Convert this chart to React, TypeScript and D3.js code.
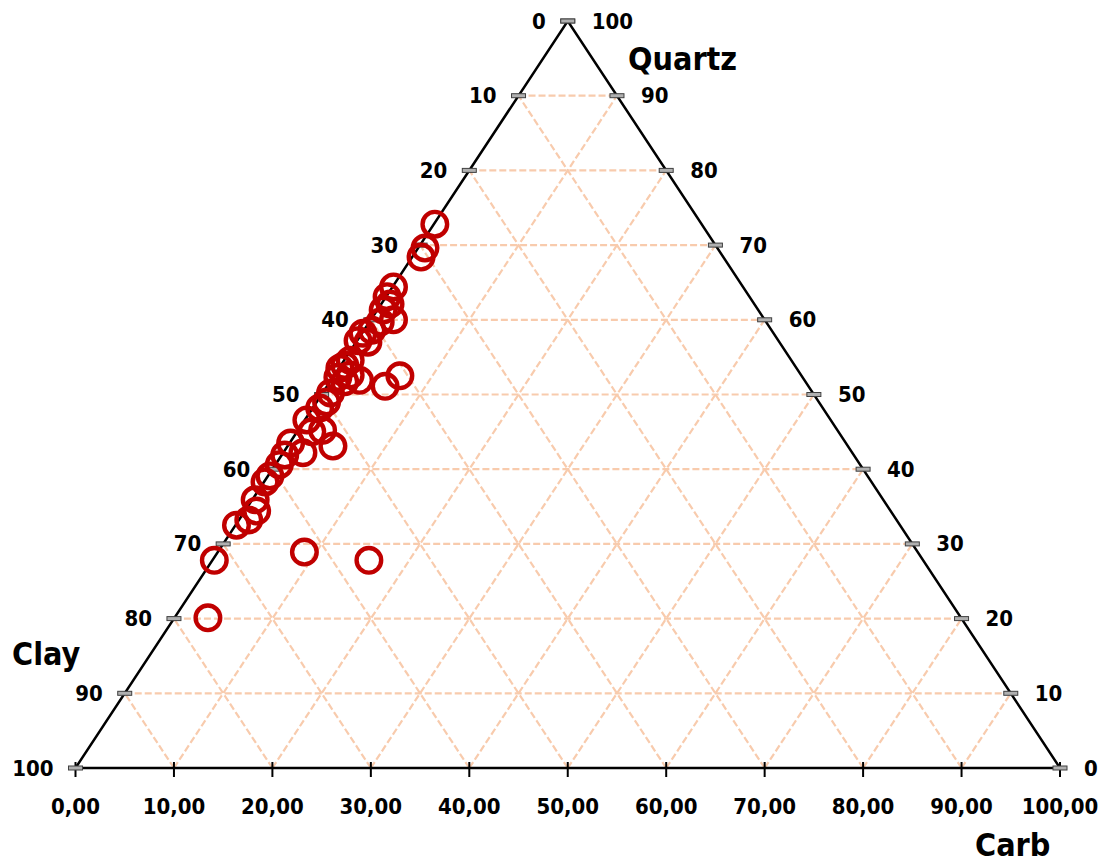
import React, { useEffect, useRef } from 'react';
import * as d3 from 'd3';

// sample compositions in %
const quartz = [72.8, 69.6, 68.4, 64.4, 63.1, 62.1, 61.3, 60.0, 59.7, 58.6, 58.2, 57.2, 57.0, 54.6, 53.9,
    53.5, 52.6, 52.5, 52.3, 51.9, 51.7, 51.1, 50.2, 49.0, 48.2, 46.6, 45.2, 45.0, 43.5, 43.1,
    42.2, 41.9, 40.6, 39.1, 38.3, 35.9, 34.4, 33.2, 32.5, 28.9, 27.8, 27.8, 20.1];
const carb = [0.1, 0.7, 0.9, 0.1, 0.1, 0.9, 0.6, 2.3, 1.1, 0.8, 0.1, 0.1, 1.2, 0.6, 0.4,
    0.1, 1.6, 6.7, 0.5, 2.9, 1.5, 5.9, 0.8, 1.0, 0.7, 0.2, 2.5, 1.5, 0.1, 4.6,
    2.0, 0.3, 0.4, 0.2, 0.1, 0.3, 1.2, 1.0, 0.1, 8.8, 0.2, 15.9, 3.4];
const clay = [27.1, 29.7, 30.7, 35.5, 36.8, 37.0, 38.1, 37.7, 39.2, 40.6, 41.7, 42.7, 41.8, 44.8, 45.7,
    46.4, 45.8, 40.8, 47.2, 45.2, 46.8, 43.0, 49.0, 50.0, 51.1, 53.2, 52.3, 53.5, 56.4, 52.3,
    55.8, 57.8, 59.0, 60.7, 61.6, 63.8, 64.4, 65.8, 67.4, 62.3, 72.0, 56.3, 76.5];

const ticks = [0, 10, 20, 30, 40, 50, 60, 70, 80, 90, 100];
const gridLevels = [10, 20, 30, 40, 50, 60, 70, 80, 90];

export default function App() {
    const ref = useRef<SVGSVGElement>(null);

    useEffect(() => {
        const svg = d3.select(ref.current);
        svg.selectAll("*").remove();

        var left = 75.5, right = 1060, top = 21, bottom = 768;
        var font = "'DejaVu Sans Condensed', 'DejaVu Sans', Verdana, sans-serif";
        var gridColor = "#f8cbad";
        var red = "#c00000";

        // base runs with Carb, height with Quartz
        var x = d3.scaleLinear().domain([0, 100]).range([left, right]);
        var y = d3.scaleLinear().domain([0, 100]).range([bottom, top]);
        var px = (q: number, c: number) => x(c + q / 2);

        // grid
        var grid = svg.append("g")
            .attr("stroke", gridColor)
            .attr("stroke-width", 2.2)
            .attr("stroke-dasharray", "7,3")
            .attr("fill", "none");
        gridLevels.forEach(t => {
            // constant quartz
            grid.append("line")
                .attr("x1", px(t, 0)).attr("y1", y(t))
                .attr("x2", px(t, 100 - t)).attr("y2", y(t));
            // constant carb
            grid.append("line")
                .attr("x1", px(0, t)).attr("y1", y(0))
                .attr("x2", px(100 - t, t)).attr("y2", y(100 - t));
            // constant clay
            grid.append("line")
                .attr("x1", px(0, 100 - t)).attr("y1", y(0))
                .attr("x2", px(100 - t, 0)).attr("y2", y(100 - t));
        });

        // triangle
        svg.append("path")
            .attr("d", d3.line()([[px(0, 0), y(0)], [px(100, 0), y(100)], [px(0, 100), y(0)]]) + "Z")
            .attr("fill", "none")
            .attr("stroke", "#000")
            .attr("stroke-width", 2.5)
            .attr("stroke-linejoin", "miter");

        var label = (sel: any) => sel
            .attr("dominant-baseline", "central")
            .attr("font-family", font)
            .attr("font-stretch", "condensed")
            .attr("font-weight", "bold")
            .attr("font-size", 22);

        // bottom ticks + labels (Carb)
        var bt = svg.append("g");
        ticks.forEach(v => {
            bt.append("line")
                .attr("x1", x(v)).attr("x2", x(v))
                .attr("y1", y(0) - 6).attr("y2", y(0) + 9)
                .attr("stroke", "#000").attr("stroke-width", 2);
            bt.append("text")
                .attr("x", x(v)).attr("y", 806)
                .attr("text-anchor", "middle")
                .call(label)
                .text(v.toFixed(2).replace(".", ","));
        });

        // left edge ticks + labels (Clay)
        var lt = svg.append("g");
        ticks.forEach(v => {
            var q = 100 - v;
            var cx = px(q, 0), cy = y(q);
            lt.append("rect")
                .attr("x", cx - 7).attr("y", cy - 2).attr("width", 14).attr("height", 4)
                .attr("fill", "#b0b0b0").attr("stroke", "#404040").attr("stroke-width", 1);
            lt.append("text")
                .attr("x", cx - 22).attr("y", cy)
                .attr("text-anchor", "end")
                .call(label)
                .text(v);
        });

        // right edge ticks + labels (Quartz)
        var rt = svg.append("g");
        ticks.forEach(v => {
            var cx = px(v, 100 - v), cy = y(v);
            rt.append("rect")
                .attr("x", cx - 7).attr("y", cy - 2).attr("width", 14).attr("height", 4)
                .attr("fill", "#b0b0b0").attr("stroke", "#404040").attr("stroke-width", 1);
            rt.append("text")
                .attr("x", cx + 24).attr("y", cy)
                .attr("text-anchor", "start")
                .call(label)
                .text(v);
        });

        // axis titles
        var titles = [["Quartz", 628, 70], ["Clay", 12, 665], ["Carb", 975, 856]];
        titles.forEach(t => {
            svg.append("text")
                .attr("x", t[1]).attr("y", t[2])
                .attr("font-family", font).attr("font-stretch", "condensed")
                .attr("font-weight", "bold").attr("font-size", 32)
                .text(t[0] as string);
        });

        // samples
        var data = quartz.map((q, i) => {
            var s = q + carb[i] + clay[i];
            return { q: q / s * 100, c: carb[i] / s * 100 };
        });
        svg.append("g")
            .selectAll("circle")
            .data(data)
            .enter()
            .append("circle")
            .attr("cx", d => px(d.q, d.c))
            .attr("cy", d => y(d.q))
            .attr("r", 12.3)
            .attr("fill", "none")
            .attr("stroke", red)
            .attr("stroke-width", 4.4);
    }, []);

    return (
        <svg ref={ref} width={1113} height={860}
            style={{ position: 'absolute', left: 0, top: 0, background: '#fff' }} />
    );
}
